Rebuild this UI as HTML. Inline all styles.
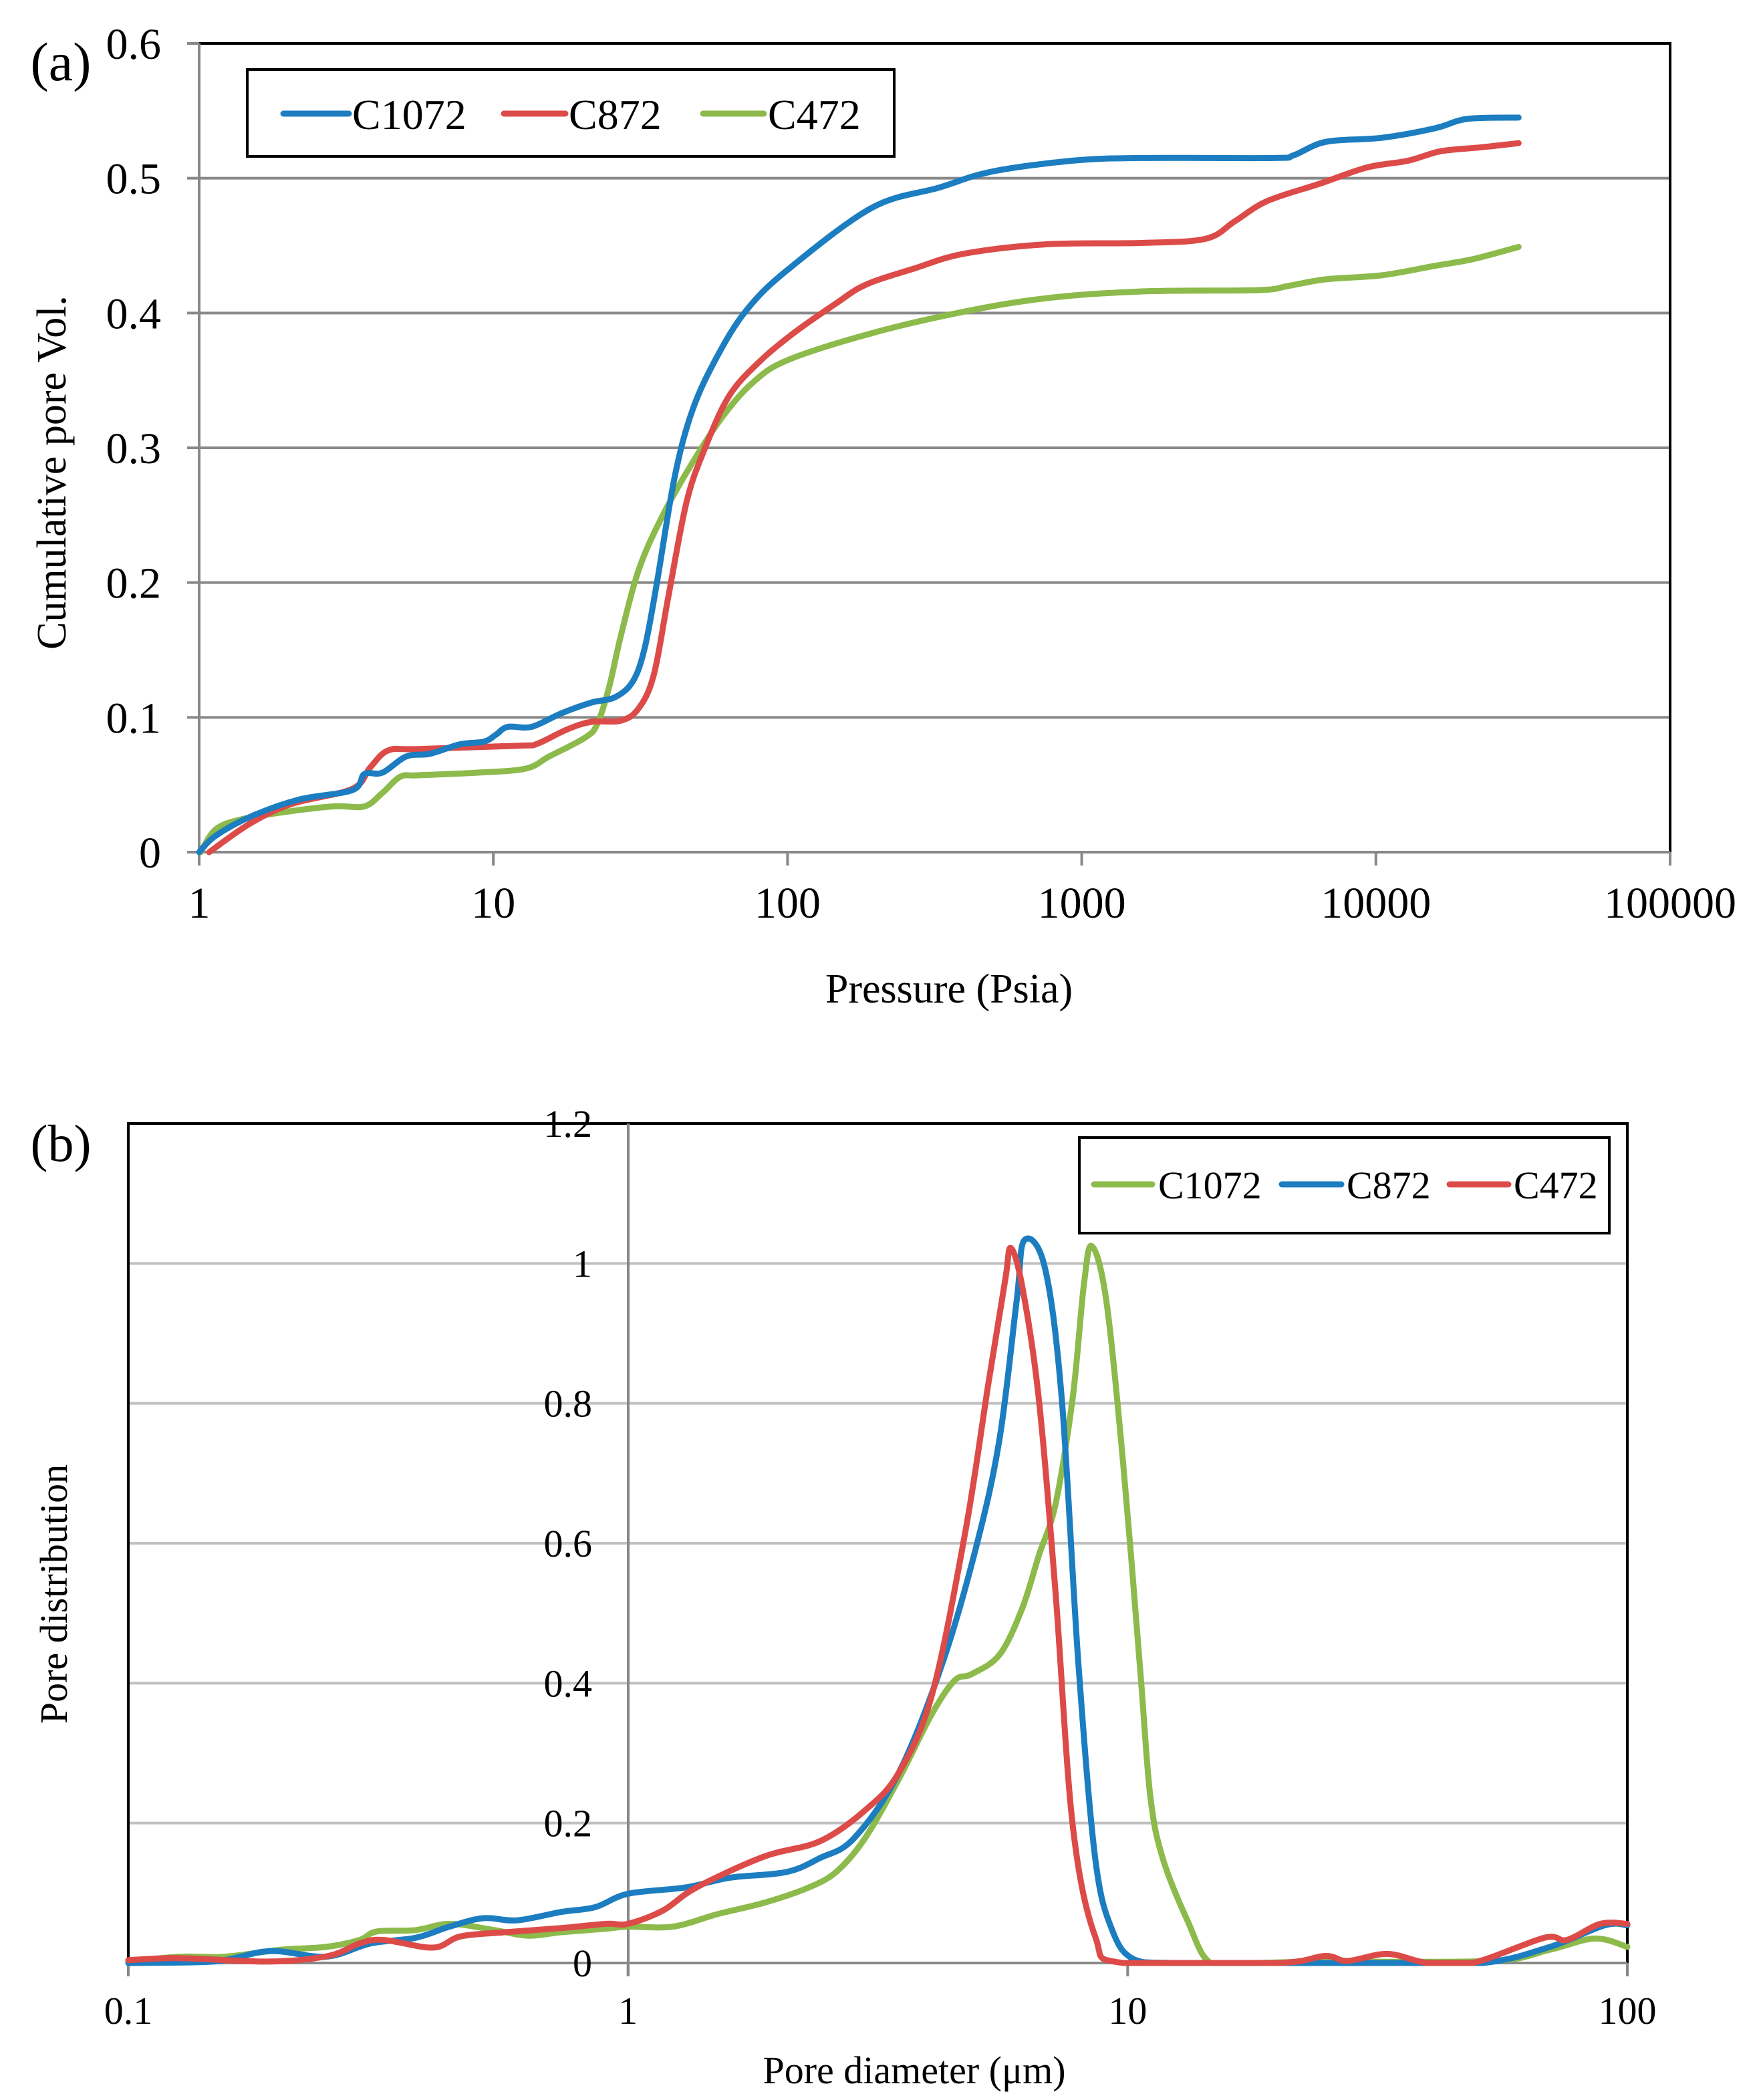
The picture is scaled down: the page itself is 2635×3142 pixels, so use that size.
<!DOCTYPE html>
<html><head><meta charset="utf-8"><style>
html,body{margin:0;padding:0;background:#fff;}
svg{display:block;font-family:"Liberation Serif",serif;}
</style></head><body>
<svg id="fig" width="2635" height="3142" viewBox="0 0 2635 3142" xmlns="http://www.w3.org/2000/svg">
<g id="pa"></g>
<g id="pb"></g>
</svg>
<script>
// ---------- Panel (a) data: x = log10(pressure psia), y = cumulative pore vol ----------
const aTicksX = ["1","10","100","1000","10000","100000"];
const aTicksY = ["0","0.1","0.2","0.3","0.4","0.5","0.6"];
const aSeriesNames = ["C1072","C872","C472"];
const aC1072x = [0,0.055,0.176,0.339,0.521,0.562,0.623,0.704,0.785,0.886,0.968,1.008,1.049,1.13,1.231,1.333,1.414,1.475,1.515,1.556,1.617,1.677,1.759,1.86,2.0,2.286,2.514,2.696,2.969,3.197,3.65,3.72,3.83,4.02,4.2,4.31,4.485];
const aC1072y = [0,0.012,0.0265,0.039,0.046,0.058,0.059,0.071,0.073,0.080,0.082,0.087,0.093,0.093,0.103,0.111,0.115,0.127,0.152,0.20,0.279,0.328,0.367,0.402,0.432,0.478,0.493,0.505,0.513,0.515,0.515,0.517,0.527,0.530,0.537,0.544,0.545];
const aC872x = [0.034,0.176,0.318,0.521,0.582,0.643,0.744,1.089,1.15,1.25,1.333,1.434,1.495,1.546,1.596,1.657,1.718,1.8,1.9,2.02,2.164,2.266,2.43,2.6,2.88,3.2,3.42,3.52,3.63,3.81,3.97,4.11,4.22,4.36,4.485];
const aC872y = [0,0.0216,0.036,0.047,0.063,0.0755,0.0765,0.079,0.0805,0.091,0.0967,0.0976,0.107,0.132,0.191,0.26,0.299,0.338,0.363,0.385,0.407,0.421,0.433,0.444,0.451,0.452,0.455,0.468,0.483,0.496,0.508,0.513,0.52,0.523,0.526];
const aC472x = [0.005,0.055,0.136,0.298,0.46,0.562,0.623,0.684,0.744,0.947,1.11,1.19,1.312,1.353,1.393,1.434,1.495,1.576,1.677,1.779,1.88,2.0,2.286,2.6,2.88,3.2,3.6,3.7,3.83,4.02,4.2,4.33,4.485];
const aC472y = [0,0.0167,0.024,0.030,0.034,0.034,0.044,0.056,0.057,0.059,0.062,0.071,0.085,0.095,0.122,0.161,0.21,0.25,0.289,0.323,0.348,0.365,0.385,0.401,0.411,0.416,0.417,0.420,0.425,0.428,0.435,0.440,0.449];

// ---------- Panel (b) data: x = log10(pore diameter um), y = pore distribution ----------
const bTicksX = ["0.1","1","10","100"];
const bTicksY = ["0","0.2","0.4","0.6","0.8","1","1.2"];
const bSeriesNames = ["C1072","C872","C472"];
const bC1072x = [-1,-0.897,-0.807,-0.694,-0.604,-0.537,-0.503,-0.425,-0.357,-0.267,-0.2,-0.133,-0.043,0,0.09,0.18,0.272,0.362,0.418,0.474,0.542,0.609,0.654,0.688,0.744,0.789,0.822,0.856,0.89,0.912,0.928,0.957,0.991,1.025,1.045,1.07,1.12,1.166,1.25,1.4,1.73,1.845,1.935,2.0];
const bC1072y = [0.002,0.009,0.009,0.019,0.023,0.033,0.045,0.047,0.056,0.047,0.039,0.044,0.049,0.052,0.052,0.07,0.086,0.108,0.131,0.178,0.263,0.357,0.404,0.413,0.441,0.507,0.582,0.657,0.808,0.967,1.025,0.948,0.714,0.42,0.24,0.15,0.06,0,0,0.002,0.003,0.019,0.035,0.023];
const bC872x = [-1,-0.829,-0.717,-0.604,-0.515,-0.425,-0.357,-0.29,-0.222,-0.133,-0.065,0,0.115,0.205,0.317,0.384,0.452,0.542,0.631,0.699,0.744,0.778,0.793,0.834,0.868,0.901,0.935,0.969,1.013,1.1,1.5,1.71,1.845,1.955,2.0];
const bC872y = [0,0.002,0.017,0.009,0.028,0.036,0.052,0.064,0.061,0.073,0.08,0.099,0.108,0.122,0.13,0.15,0.178,0.272,0.432,0.601,0.751,0.948,1.033,0.995,0.808,0.432,0.15,0.047,0.005,0,0,0,0.023,0.054,0.054];
const bC472x = [-1,-0.9,-0.72,-0.6,-0.537,-0.49,-0.39,-0.335,-0.245,-0.133,-0.043,0,0.07,0.137,0.272,0.384,0.474,0.542,0.609,0.676,0.721,0.755,0.766,0.789,0.822,0.856,0.89,0.935,0.991,1.3,1.395,1.44,1.52,1.6,1.69,1.834,1.879,1.946,2.0];
const bC472y = [0.004,0.007,0.002,0.01,0.028,0.033,0.022,0.038,0.044,0.05,0.056,0.056,0.075,0.108,0.152,0.174,0.218,0.272,0.385,0.62,0.827,0.977,1.022,0.967,0.808,0.526,0.197,0.038,0,0,0.01,0.003,0.013,0,0,0.036,0.033,0.056,0.056];

const NS = "http://www.w3.org/2000/svg";
const BLUE = "#1c7dc0", RED = "#dc4b48", GREEN = "#8cba4b";

function mk(parent, tag, attrs, text) {
  const el = document.createElementNS(NS, tag);
  for (const k in attrs) el.setAttribute(k, attrs[k]);
  if (text !== undefined) el.textContent = text;
  parent.appendChild(el);
  return el;
}
function smoothPath(px, py, floorY) {
  let d = "M" + px[0].toFixed(1) + "," + py[0].toFixed(1);
  const cl = v => (floorY !== undefined ? Math.min(v, floorY) : v);
  for (let i = 0; i < px.length - 1; i++) {
    const x0 = px[Math.max(i - 1, 0)], y0 = py[Math.max(i - 1, 0)];
    const x1 = px[i], y1 = py[i], x2 = px[i + 1], y2 = py[i + 1];
    const x3 = px[Math.min(i + 2, px.length - 1)], y3 = py[Math.min(i + 2, px.length - 1)];
    const c1x = x1 + (x2 - x0) / 6, c1y = cl(y1 + (y2 - y0) / 6);
    const c2x = x2 - (x3 - x1) / 6, c2y = cl(y2 - (y3 - y1) / 6);
    d += " C" + c1x.toFixed(1) + "," + c1y.toFixed(1) + " " + c2x.toFixed(1) + "," + c2y.toFixed(1) + " " + x2.toFixed(1) + "," + y2.toFixed(1);
  }
  return d;
}

// ================= Panel (a) =================
(function () {
  const g = document.getElementById("pa");
  const L = 298, R = 2499, T = 65, B = 1275;
  const xA = v => L + (v / 5) * (R - L);
  const yA = v => B - (v / 0.6) * (B - T);
  for (let i = 1; i < aTicksY.length - 1; i++) {
    const v = parseFloat(aTicksY[i]);
    const ln = mk(g, "line", {x1: L, x2: R, y1: yA(v), y2: yA(v), stroke: "#888", "stroke-width": 4});
    
    
  }
  const fr = mk(g, "path", {d: `M${L},${T} H${R} V${B}`, fill: "none", stroke: "#000", "stroke-width": 4});
  
  
  const ya = mk(g, "line", {x1: L, x2: L, y1: T, y2: B + 20, stroke: "#888", "stroke-width": 4});
  
  
  const xa = mk(g, "line", {x1: L - 18, x2: R, y1: B, y2: B, stroke: "#888", "stroke-width": 4});
  
  
  aTicksY.forEach((t, i) => {
    const y = yA(parseFloat(t));
    const tk = mk(g, "line", {x1: L - 18, x2: L, y1: y, y2: y, stroke: "#888", "stroke-width": 4});
    
    
    const tx = mk(g, "text", {x: 241, y: y + 23, "text-anchor": "end", "font-size": 66}, t);
    
    
  });
  aTicksX.forEach((t, i) => {
    const x = xA(i);
    const tk = mk(g, "line", {x1: x, x2: x, y1: B, y2: B + 20, stroke: "#888", "stroke-width": 4});
    
    
    const tx = mk(g, "text", {x: x, y: 1373, "text-anchor": "middle", "font-size": 66}, t);
    
    
  });
  const sx = [aC1072x, aC872x, aC472x], sy = [aC1072y, aC872y, aC472y], cols = [BLUE, RED, GREEN];
  [2, 1, 0].forEach(k => {
    const p = mk(g, "path", {d: smoothPath(sx[k].map(xA), sy[k].map(yA)), fill: "none", stroke: cols[k], "stroke-width": 9, "stroke-linejoin": "round", "stroke-linecap": "round"});
    
    
  });
  const lg = mk(g, "g", {});
  
  
  mk(lg, "rect", {x: 370, y: 104, width: 968, height: 130, fill: "#fff", stroke: "#000", "stroke-width": 4});
  const lx = [[424, 522, 527], [754, 846, 851], [1052, 1143, 1149]];
  aSeriesNames.forEach((n, k) => {
    const e = mk(lg, "g", {});
    
    
    mk(e, "line", {x1: lx[k][0], x2: lx[k][1], y1: 170, y2: 170, stroke: cols[k], "stroke-width": 9, "stroke-linecap": "round"});
    mk(e, "text", {x: lx[k][2], y: 193, "font-size": 64}, n);
  });
  const pl = mk(g, "text", {x: 91, y: 120, "text-anchor": "middle", "font-size": 82}, "(a)");
  
  
  const yt = mk(g, "text", {x: 0, y: 0, "text-anchor": "middle", "font-size": 62, transform: "translate(98,707) rotate(-90)"}, "Cumulative pore Vol.");
  
  
  const xt = mk(g, "text", {x: 1420, y: 1500, "text-anchor": "middle", "font-size": 62}, "Pressure (Psia)");
  
  
})();

// ================= Panel (b) =================
(function () {
  const g = document.getElementById("pb");
  const L = 192, R = 2435, T = 1681, B = 2937, AX = 940;
  const xB = v => L + ((v + 1) / 3) * (R - L);
  const yB = v => B - (v / 1.2) * (B - T);
  for (let i = 1; i < bTicksY.length - 1; i++) {
    const v = parseFloat(bTicksY[i]);
    const ln = mk(g, "line", {x1: L, x2: R, y1: yB(v), y2: yB(v), stroke: "#c0c0c0", "stroke-width": 4});
    
    
  }
  const fr = mk(g, "path", {d: `M${L},${B} V${T} H${R} V${B}`, fill: "none", stroke: "#000", "stroke-width": 4});
  
  
  const ya = mk(g, "line", {x1: AX, x2: AX, y1: T, y2: B + 20, stroke: "#888", "stroke-width": 4});
  
  
  const xa = mk(g, "line", {x1: L, x2: R, y1: B, y2: B, stroke: "#888", "stroke-width": 4});
  
  
  bTicksY.forEach(t => {
    const y = yB(parseFloat(t));
    const tx = mk(g, "text", {x: 886, y: y + 20, "text-anchor": "end", "font-size": 58}, t);
    
    
  });
  bTicksX.forEach((t, i) => {
    const x = xB(i - 1);
    const tk = mk(g, "line", {x1: x, x2: x, y1: B, y2: B + 20, stroke: "#888", "stroke-width": 4});
    
    
    const tx = mk(g, "text", {x: x, y: 3028, "text-anchor": "middle", "font-size": 58}, t);
    
    
  });
  const sx = [bC1072x, bC872x, bC472x], sy = [bC1072y, bC872y, bC472y], cols = [GREEN, BLUE, RED];
  [0, 1, 2].forEach(k => {
    const p = mk(g, "path", {d: smoothPath(sx[k].map(xB), sy[k].map(v => yB(Math.max(v, 0))), B), fill: "none", stroke: cols[k], "stroke-width": 9, "stroke-linejoin": "round", "stroke-linecap": "round"});
    
    
  });
  const lg = mk(g, "g", {});
  
  
  mk(lg, "rect", {x: 1615, y: 1702, width: 793, height: 143, fill: "#fff", stroke: "#000", "stroke-width": 4});
  const lx = [[1637, 1724, 1733], [1918, 2007, 2015], [2169, 2257, 2265]];
  bSeriesNames.forEach((n, k) => {
    const e = mk(lg, "g", {});
    
    
    mk(e, "line", {x1: lx[k][0], x2: lx[k][1], y1: 1772, y2: 1772, stroke: cols[k], "stroke-width": 9, "stroke-linecap": "round"});
    mk(e, "text", {x: lx[k][2], y: 1793, "font-size": 58}, n);
  });
  const pl = mk(g, "text", {x: 91, y: 1737, "text-anchor": "middle", "font-size": 78}, "(b)");
  
  
  const yt = mk(g, "text", {x: 0, y: 0, "text-anchor": "middle", "font-size": 58, transform: "translate(100,2385) rotate(-90)"}, "Pore distribution");
  
  
  const xt = mk(g, "text", {x: 1368, y: 3117, "text-anchor": "middle", "font-size": 58}, "Pore diameter  (\u03bcm)");
  
  
})();
</script>
</body></html>
